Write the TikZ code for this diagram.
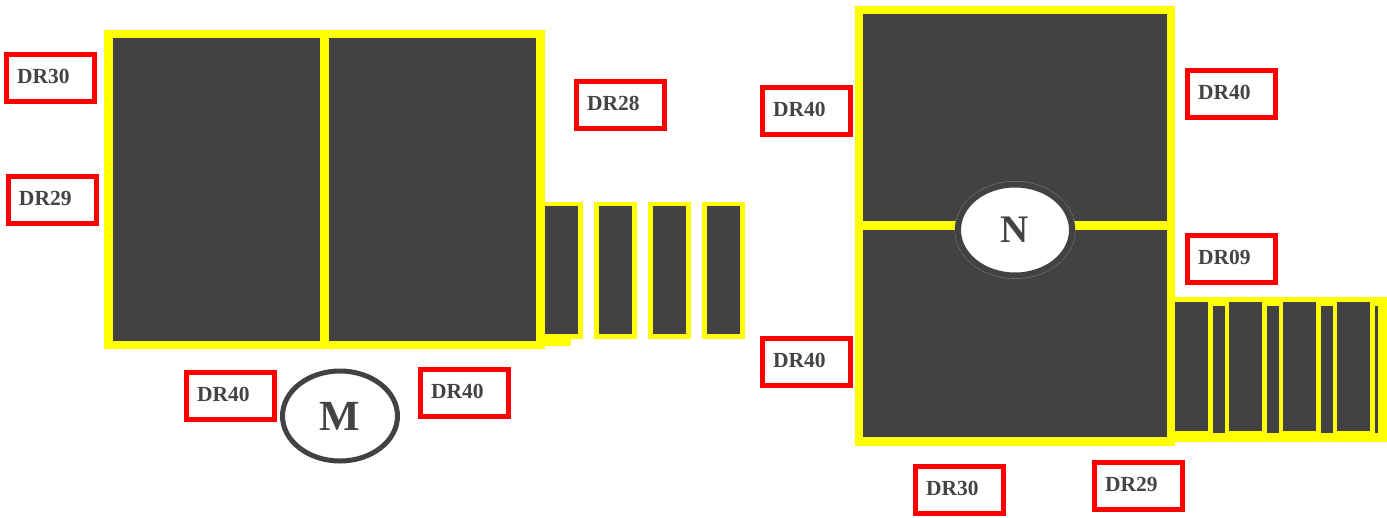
\documentclass[tikz,border=0pt]{standalone}
\usepackage{fontspec}
\setmainfont{Liberation Serif}
\usetikzlibrary{shapes.geometric}
\definecolor{ylw}{HTML}{FFFF00}
\definecolor{drk}{HTML}{424242}
\definecolor{txt}{HTML}{444444}
\definecolor{rd}{HTML}{FF0000}
\definecolor{ring}{HTML}{8A8A8A}
\tikzset{
  redbox/.style={rectangle, draw=rd, fill=white, line width=5pt, minimum width=88pt, minimum height=47pt, inner sep=0pt, outer sep=0pt},
  lbl/.style={text=txt, font=\fontsize{21.5}{24}\selectfont\bfseries, inner sep=0pt, outer sep=0pt},
  bigletter/.style={ellipse, text=txt, inner sep=0pt, outer sep=0pt},
}
% #1 name, #2 #3 outer top-left corner, #4 text
\newcommand\drlab[4]{%
  \node[redbox, anchor=north west] (#1) at (#2+2.5, #3+2.5) {};
  \node[lbl, anchor=base west] (#1t) at (#2+13, #3+31) {#4};
}
\begin{document}
\begin{tikzpicture}[x=1pt, y=-1pt]
\useasboundingbox (0,0) rectangle (1387,517);

% ---------- left block ----------
\fill[ylw] (104,30) rectangle (545,349);
\fill[drk] (113,38) rectangle (536,341);
\fill[ylw] (320,30) rectangle (329,349);
\fill[ylw] (545,338) rectangle (571,346);
\foreach \k in {0,1,2,3}{
  \fill[ylw] (540+54*\k,202) rectangle (583+54*\k,339);
  \fill[drk] (545+54*\k,206) rectangle (578+54*\k,334);
}

% ---------- right block ----------
\fill[ylw] (855,6) rectangle (1175,446);
\fill[drk] (863,14) rectangle (1167,437);
\fill[ylw] (855,221) rectangle (1175,230);
\fill[ylw] (1175,297) rectangle (1387,442);
\foreach \k in {0,1,2,3}{
  \fill[drk] (1175+54*\k,302) rectangle (1208+54*\k,431);
}
\foreach \k in {0,1,2}{
  \fill[drk] (1213+54*\k,306) rectangle (1225+54*\k,433);
}
\fill[drk] (1375,306) rectangle (1378,433);

% ---------- ellipses ----------
\node[ellipse, draw=ring, line width=0.8pt, minimum width=120pt, minimum height=97pt, inner sep=0pt] (Nring) at (1015,230) {};
\node[bigletter, fill=white, draw=drk, line width=6pt, minimum width=114pt, minimum height=91pt,
      font=\fontsize{39}{43}\selectfont\bfseries] (N) at (1015,230) {N};
\node[bigletter, draw=drk, line width=5pt, minimum width=115pt, minimum height=90pt,
      font=\fontsize{43}{46}\selectfont\bfseries] (M) at (340,416) {M};

% ---------- labels ----------
\drlab{a}{4}{52}{DR30}
\drlab{b}{6}{174}{DR29}
\drlab{c}{574}{79}{DR28}
\drlab{d}{184}{370}{DR40}
\drlab{e}{418}{367}{DR40}
\drlab{f}{760}{85}{DR40}
\drlab{g}{1185}{68}{DR40}
\drlab{h}{1185}{233}{DR09}
\drlab{i}{760}{336}{DR40}
\drlab{j}{913}{464}{DR30}
\drlab{k}{1092}{460}{DR29}
\end{tikzpicture}
\end{document}
